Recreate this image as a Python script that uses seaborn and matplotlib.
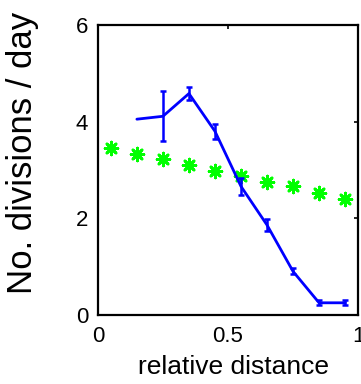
import numpy as np
import pandas as pd
import matplotlib
matplotlib.use("Agg")
import matplotlib.pyplot as plt
import seaborn as sns

# Data
blue_x = [0.15, 0.25, 0.35, 0.45, 0.55, 0.65, 0.75, 0.85, 0.95]
blue_y = [4.05, 4.11, 4.58, 3.80, 2.66, 1.86, 0.90, 0.25, 0.25]
blue_err = [np.nan, 0.52, 0.13, 0.16, 0.17, 0.12, 0.06, 0.05, 0.05]

green_x = [0.05, 0.15, 0.25, 0.35, 0.45, 0.55, 0.65, 0.75, 0.85, 0.95]
green_y = [3.45, 3.33, 3.23, 3.11, 2.97, 2.87, 2.76, 2.66, 2.52, 2.40]

x_ticks = [0, 0.5, 1]
x_tick_labels = ["0", "0.5", "1"]
y_ticks = [0, 2, 4, 6]

sns.set_theme(style="white")
plt.rcParams['font.family'] = ['Liberation Sans', 'DejaVu Sans']
plt.rcParams['text.color'] = 'black'
plt.rcParams['axes.labelcolor'] = 'black'

fig = plt.figure(figsize=(3.61, 3.84), dpi=100)
ax = fig.add_axes([0.271, 0.180, 0.721, 0.755])

blue_df = pd.DataFrame({"x": blue_x, "y": blue_y, "err": blue_err})
green_df = pd.DataFrame({"x": green_x, "y": green_y})

sns.scatterplot(data=green_df, x="x", y="y", ax=ax, marker=(8, 2, 0), s=85,
                color="#00ff00", edgecolor="#00ff00", linewidth=2.0, zorder=2)
sns.lineplot(data=blue_df, x="x", y="y", ax=ax, color="#0000ff", linewidth=2.0, zorder=3)
ax.errorbar(blue_df["x"], blue_df["y"], yerr=blue_df["err"], fmt="none",
            ecolor="#0000ff", elinewidth=1.8, capsize=2.5, capthick=1.8, zorder=3)

ax.set_xlim(0, 1)
ax.set_ylim(0, 6)
ax.set_xticks(x_ticks)
ax.set_xticklabels(x_tick_labels)
ax.set_yticks(y_ticks)
ax.tick_params(direction="in", length=3, width=1.2, top=True, right=True,
               labelsize=16, colors="black", labelcolor="black")
ax.tick_params(axis="x", pad=8)
ax.tick_params(axis="y", pad=7)
for s in ax.spines.values():
    s.set_visible(True)
    s.set_color("black")
    s.set_linewidth(1.6)

ax.set_xlabel("relative distance", fontsize=19, color="black")
ax.xaxis.set_label_coords(0.52, -0.14)
ax.set_ylabel("No. divisions / day", fontsize=25, color="black")
ax.yaxis.set_label_coords(-0.225, 0.56)

fig.savefig("out.png", dpi=100)
